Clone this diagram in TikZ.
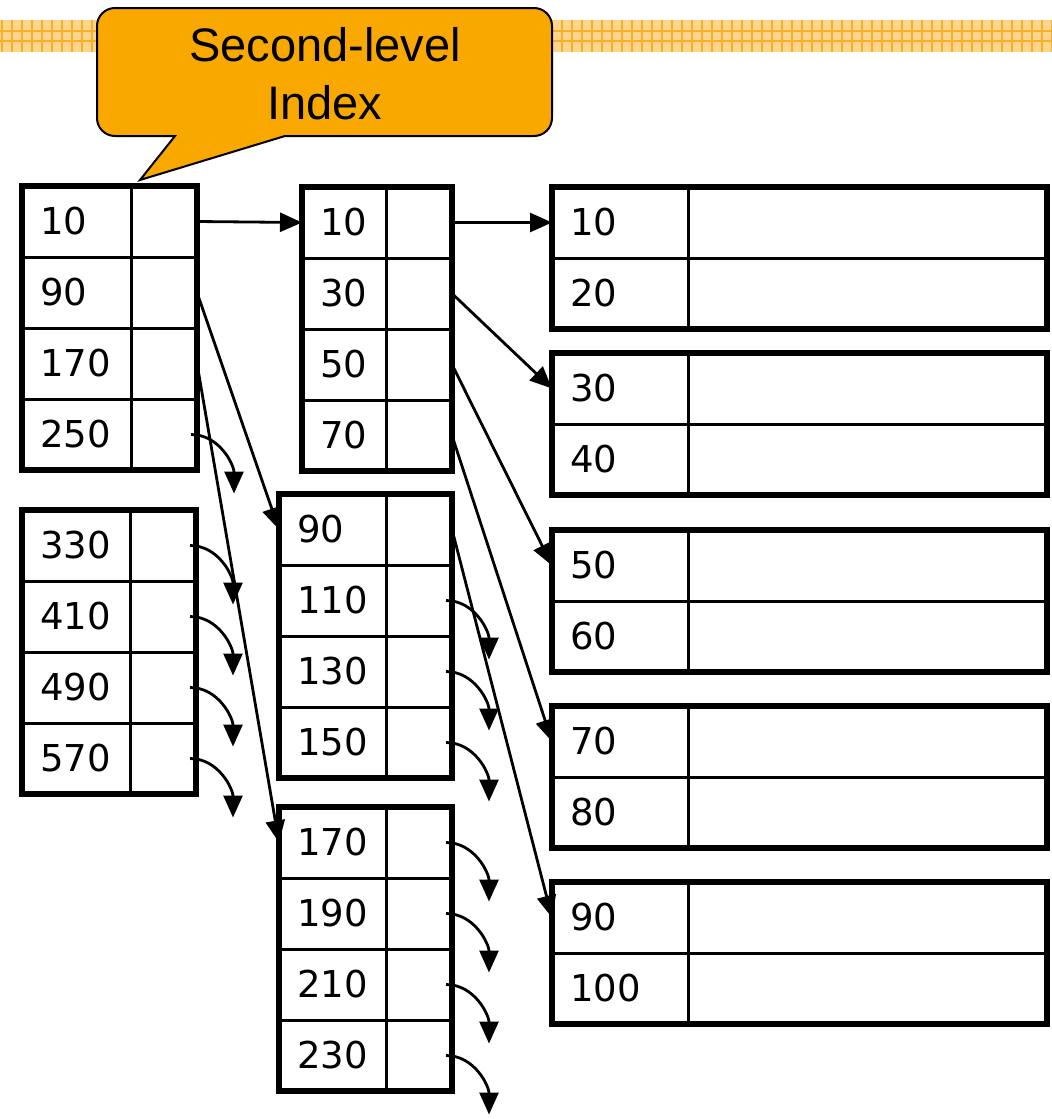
\documentclass[tikz,border=0pt]{standalone}
\usepackage{fontspec}
\newfontfamily\keyfont{DejaVu Sans}
\newfontfamily\bubblefont{Liberation Sans}
\usetikzlibrary{positioning,arrows.meta}

\definecolor{calloutorange}{RGB}{249,168,0}
\definecolor{barfill}{RGB}{252,214,140}
\definecolor{barline}{RGB}{248,176,42}

% one index block: #1 name, #2/#3 top left corner, #4 text width of the key column,
% #5 width of the pointer column, #6 keys, #7 number of rows
\newcommand{\keytable}[7]{%
  \foreach \v [count=\i] in {#6} {
    \node[cell, anchor=north west, inner xsep=18pt, text width=#4pt, align=left] (#1\i) at (#2,{#3+71*(\i-1)}) {\v};
    \node[cell, minimum width=#5pt, right=0pt of #1\i] (#1p\i) {};
  }
  \draw[frame] (#11.north west) rectangle (#1p#7.south east);
}

\begin{document}
\begin{tikzpicture}[x=1pt, y=-1pt,
  cell/.style={draw, line width=3pt, minimum height=71pt, inner sep=0pt, outer sep=0pt,
    font=\keyfont\fontsize{37}{44}\selectfont},
  frame/.style={line width=6pt},
  link/.style={line width=2.8pt, -{Triangle[length=22pt,width=19pt]}},
  curl/.style={link},
  callout/.style={draw, line width=2pt, fill=calloutorange}]
\useasboundingbox (0,0) rectangle (1052,1119);

% checked band along the top
\fill[barfill] (0,20) rectangle (1052,52);
\foreach \x in {2,12,...,1052}
  \draw[barline, line width=1.5pt] (\x,20) -- (\x,52);
\draw[barline, line width=1.5pt] (0,31) -- (1052,31) (0,41) -- (1052,41);

% speech bubble
\draw[callout] (175,136) -- (140,180) -- (285,136) -- (534,136)
  arc[start angle=-90, end angle=0, radius=18pt] -- (552,26)
  arc[start angle=0, end angle=90, radius=18pt] -- (115,8)
  arc[start angle=90, end angle=180, radius=18pt] -- (97,118)
  arc[start angle=180, end angle=270, radius=18pt] -- cycle;
\node[font=\bubblefont\fontsize{47}{58}\selectfont, align=center] (title) at (325,74) {Second-level\\Index};

% second level
\keytable{sA}{22}{186}{73}{66}{10,90,170,250}{4}
\keytable{sB}{22}{510}{72}{66}{330,410,490,570}{4}
% first level
\keytable{fA}{302}{187}{48}{66}{10,30,50,70}{4}
\keytable{fB}{279}{494}{71}{66}{90,110,130,150}{4}
\keytable{fC}{279}{807}{71}{66}{170,190,210,230}{4}
% data blocks
\keytable{dA}{552}{187}{100}{359}{10,20}{2}
\keytable{dB}{552}{353}{100}{359}{30,40}{2}
\keytable{dC}{552}{530}{100}{359}{50,60}{2}
\keytable{dD}{552}{706}{100}{359}{70,80}{2}
\keytable{dE}{552}{882}{100}{359}{90,100}{2}

\draw[link] (sAp1.east) -- (fA1.west);
\draw[link] (sAp2.east) -- (fB1.west);
\draw[link] (sAp3.east) -- (fC1.west);
\draw[link] (fAp1.east) -- (dA1.west);
\draw[link] (fAp2.east) -- (dB1.west);
\draw[link] (fAp3.east) -- (dC1.west);
\draw[link] (fAp4.east) -- (dD1.west);
\draw[link] (fBp1.east) -- (dE1.west);

% pointers that lead off the page
\foreach \blk/\row in {sA/4,sB/1,sB/2,sB/3,sB/4,fB/2,fB/3,fB/4,fC/1,fC/2,fC/3,fC/4}
  \draw[curl] ([xshift=-6pt]\blk p\row.east) to[out=0, in=90] ++(43pt,-59pt);
\end{tikzpicture}
\end{document}
